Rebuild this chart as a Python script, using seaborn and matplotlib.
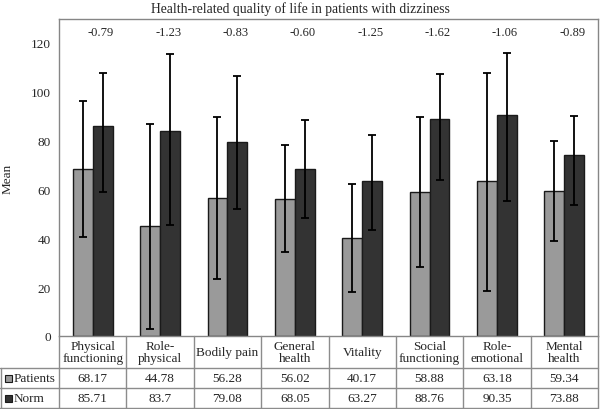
import numpy as np
import pandas as pd
import matplotlib
matplotlib.use("Agg")
import matplotlib.pyplot as plt
from matplotlib.lines import Line2D
from matplotlib.patches import Rectangle
import seaborn as sns

# data
domains = ["Physical\nfunctioning", "Role-\nphysical", "Bodily pain", "General\nhealth",
           "Vitality", "Social\nfunctioning", "Role-\nemotional", "Mental\nhealth"]
patients = [68.17, 44.78, 56.28, 56.02, 40.17, 58.88, 63.18, 59.34]
norm = [85.71, 83.7, 79.08, 68.05, 63.27, 88.76, 90.35, 73.88]
# error bar extents (below / above the mean)
patients_err_low = [27.9, 42.1, 33.1, 21.9, 22.1, 30.7, 44.8, 20.6]
patients_err_high = [27.7, 42.0, 33.2, 22.2, 22.0, 30.7, 44.4, 20.4]
norm_err_low = [27.0, 38.2, 27.2, 19.9, 20.0, 25.0, 35.4, 20.4]
norm_err_high = [21.9, 31.4, 27.2, 20.0, 18.7, 18.1, 25.3, 16.0]
effect = [-0.79, -1.23, -0.83, -0.60, -1.25, -1.62, -1.06, -0.89]
groups = ["Patients", "Norm"]
colors = {"Patients": "#9a9a9a", "Norm": "#333333"}

sns.set_style("white")
plt.rcParams["font.family"] = ["Liberation Serif", "DejaVu Sans"]

df = pd.DataFrame({
    "domain": domains * 2,
    "group": ["Patients"] * len(domains) + ["Norm"] * len(domains),
    "mean": patients + norm,
})

W, H = 600, 410
fig = plt.figure(figsize=(6, 4.1), dpi=100)
L, R, T, B = 59, 598, 20, 337
ax = fig.add_axes([L / W, 1 - B / H, (R - L) / W, (B - T) / H])

bw = 0.59
sns.barplot(data=df, x="domain", y="mean", hue="group", hue_order=groups,
            palette=colors, saturation=1, width=bw, edgecolor="#1a1a1a",
            linewidth=1, errorbar=None, legend=False, ax=ax)

x = np.arange(len(domains))
ax.errorbar(x - bw / 4, patients, yerr=[patients_err_low, patients_err_high],
            fmt="none", ecolor="black", elinewidth=1.3, capsize=3, capthick=1.3)
ax.errorbar(x + bw / 4, norm, yerr=[norm_err_low, norm_err_high],
            fmt="none", ecolor="black", elinewidth=1.3, capsize=3, capthick=1.3)

for i, v in enumerate(effect):
    ax.text(i + 0.12, 124, f"{v:.2f}", ha="center", va="center", fontsize=9)

ax.set_xlim(-0.5, len(domains) - 0.5)
ax.set_ylim(0, 129.5)
ax.set_yticks(range(0, 121, 20))
ax.set_xticks([])
ax.set_xlabel("")
ax.set_ylabel("Mean", fontsize=9.5)
ax.yaxis.set_label_coords(-0.085, 0.5)
ax.tick_params(axis="y", labelsize=9.5, length=4, color="#868686", direction="out", pad=2)
for s in ax.spines.values():
    s.set_visible(True)
    s.set_color("#868686")
    s.set_linewidth(1)

fig.text(0.5, 1 - 9 / H, "Health-related quality of life in patients with dizziness",
         ha="center", va="center", fontsize=9.8)

# data table under the plot
line_c = "#8c8c8c"
rows = [337, 369, 389, 409]
col_edges = [L + (R - L) * k / len(domains) for k in range(len(domains) + 1)]


def fline(x0, y0, x1, y1):
    fig.add_artist(Line2D([x0 / W, x1 / W], [1 - y0 / H, 1 - y1 / H],
                          color=line_c, lw=1))


for xe in col_edges:
    fline(xe, rows[0], xe, rows[3])
fline(0.5, rows[1], 0.5, rows[3])
for yr in rows[1:]:
    fline(0, yr, R, yr)

for k, name in enumerate(domains):
    cx = (col_edges[k] + col_edges[k + 1]) / 2
    fig.text(cx / W, 1 - (rows[0] + rows[1]) / 2 / H, name, ha="center",
             va="center", fontsize=9.5, linespacing=1.0)
    fig.text(cx / W, 1 - (rows[1] + rows[2]) / 2 / H, str(patients[k]),
             ha="center", va="center", fontsize=9.5)
    fig.text(cx / W, 1 - (rows[2] + rows[3]) / 2 / H, str(norm[k]),
             ha="center", va="center", fontsize=9.5)

for r, g in enumerate(groups):
    cy = (rows[r + 1] + rows[r + 2]) / 2
    fig.add_artist(Rectangle((5 / W, 1 - (cy + 3.5) / H), 7 / W, 7 / H,
                             facecolor=colors[g], edgecolor="#1a1a1a", lw=0.8))
    fig.text(14 / W, 1 - cy / H, g, ha="left", va="center", fontsize=9.5)

fig.savefig("out.png", dpi=100)
